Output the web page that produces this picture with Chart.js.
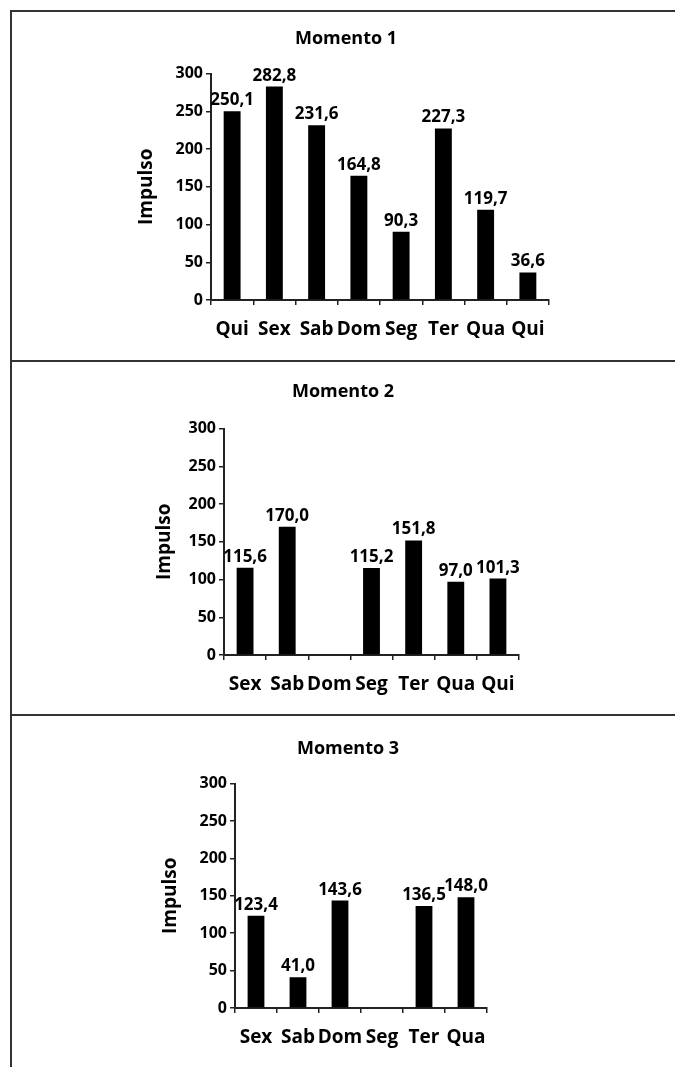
<!DOCTYPE html>
<html>
<head>
<meta charset="utf-8">
<script src="https://cdn.jsdelivr.net/npm/chart.js@4.4.1/dist/chart.umd.min.js"></script>
<style>
  body { margin: 0; background: #fff; overflow: hidden; }
  #page { position: relative; width: 675px; height: 1067px; overflow: hidden; }
  .line { position: absolute; background: #333; }
  canvas { position: absolute; }
</style>
</head>
<body>
<div id="page">
  <div class="line" style="left:10px;top:10px;width:665px;height:2px"></div>
  <div class="line" style="left:10px;top:360px;width:665px;height:2px"></div>
  <div class="line" style="left:10px;top:714px;width:665px;height:2px"></div>
  <div class="line" style="left:10px;top:10px;width:2px;height:1057px"></div>
  <canvas id="c1" width="658" height="348" style="left:17px;top:12px"></canvas>
  <canvas id="c2" width="662" height="352" style="left:12px;top:362px"></canvas>
  <canvas id="c3" width="654" height="351" style="left:21px;top:716px"></canvas>
</div>
<script>
const FONT = '"Open Sans", "Noto Sans", sans-serif';

const titles = ['Momento 1', 'Momento 2', 'Momento 3'];
const yTitle = 'Impulso';
const yMin = 0, yMax = 300, yStep = 50;

const labels1 = ['Qui', 'Sex', 'Sab', 'Dom', 'Seg', 'Ter', 'Qua', 'Qui'];
const values1 = [250.1, 282.8, 231.6, 164.8, 90.3, 227.3, 119.7, 36.6];

const labels2 = ['Sex', 'Sab', 'Dom', 'Seg', 'Ter', 'Qua', 'Qui'];
const values2 = [115.6, 170.0, null, 115.2, 151.8, 97.0, 101.3];

const labels3 = ['Sex', 'Sab', 'Dom', 'Seg', 'Ter', 'Qua'];
const values3 = [123.4, 41.0, 143.6, null, 136.5, 148.0];

// numbers above bars, with decimal comma
const valueLabels = {
    id: 'valueLabels',
    afterDatasetsDraw(chart) {
        const ctx = chart.ctx;
        const values = chart.data.datasets[0].data;
        ctx.save();
        ctx.font = `bold 17px ${FONT}`;
        ctx.fillStyle = '#000';
        ctx.textAlign = 'center';
        ctx.textBaseline = 'alphabetic';
        chart.getDatasetMeta(0).data.forEach((bar, i) => {
            if (values[i] === null) return;
            ctx.fillText(values[i].toFixed(1).replace('.', ','), bar.x, bar.y - 6);
        });
        ctx.restore();
    }
};

function makeChart(id, title, labels, values, box) {
    new Chart(document.getElementById(id), {
        type: 'bar',
        data: {
            labels: labels,
            datasets: [{
                data: values,
                backgroundColor: '#000',
                categoryPercentage: 1,
                barPercentage: 0.4
            }]
        },
        options: {
            responsive: false,
            animation: false,
            layout: { padding: 0 },
            plugins: {
                legend: { display: false },
                tooltip: { enabled: false },
                title: {
                    display: true,
                    text: title,
                    color: '#000',
                    font: { family: FONT, size: 18, weight: 'bold', lineHeight: 1.2 },
                    padding: { top: box.titleTop, bottom: box.titleBottom }
                }
            },
            scales: {
                x: {
                    grid: { offset: true, drawOnChartArea: false, tickLength: 5, color: '#222', lineWidth: 1.5 },
                    border: { color: '#222', width: 2 },
                    ticks: {
                        color: '#000',
                        font: { family: FONT, size: 19, weight: 'bold', lineHeight: 1.2 },
                        padding: 13,
                        autoSkip: false,
                        maxRotation: 0,
                        minRotation: 0
                    },
                    afterFit: s => { s.height = box.xHeight; }
                },
                y: {
                    min: yMin,
                    max: yMax,
                    ticks: {
                        stepSize: yStep,
                        color: '#000',
                        font: { family: FONT, size: 16, weight: 'bold' },
                        padding: 3
                    },
                    grid: { drawOnChartArea: false, tickLength: 5, color: '#222', lineWidth: 1.5 },
                    border: { color: '#222', width: 2 },
                    title: {
                        display: true,
                        text: yTitle,
                        color: '#000',
                        font: { family: FONT, size: 19, weight: 'bold', lineHeight: 1.2 },
                        padding: { top: box.yTitlePad, bottom: 0 }
                    },
                    afterFit: s => { s.width = box.yWidth; }
                },
                // empty right axis, only keeps the plot narrow
                yRight: {
                    position: 'right',
                    display: true,
                    grid: { display: false },
                    border: { display: false },
                    ticks: { display: false },
                    afterFit: s => { s.width = box.rightSpace; }
                }
            }
        },
        plugins: [valueLabels]
    });
}

makeChart('c1', titles[0], labels1, values1,
    { titleTop: 16, titleBottom: 24, xHeight: 60, yWidth: 194, yTitlePad: 118, rightSpace: 126 });
makeChart('c2', titles[1], labels2, values2,
    { titleTop: 19, titleBottom: 26, xHeight: 59, yWidth: 212, yTitlePad: 141, rightSpace: 155 });
makeChart('c3', titles[2], labels3, values3,
    { titleTop: 22, titleBottom: 24, xHeight: 59, yWidth: 214, yTitlePad: 138, rightSpace: 188 });
</script>
</body>
</html>
